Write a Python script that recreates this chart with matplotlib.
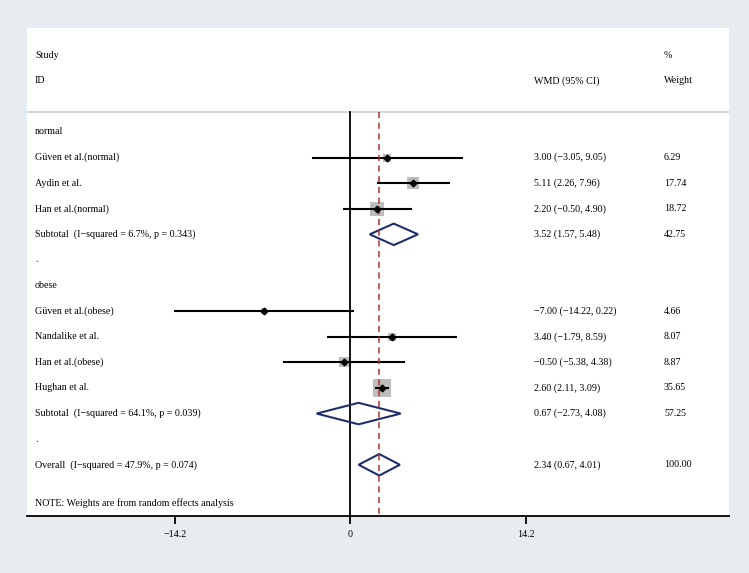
import numpy as np
import matplotlib.pyplot as plt
from matplotlib.patches import Polygon

plt.rcParams['font.family'] = ['Liberation Serif', 'DejaVu Serif']

# study rows
studies = ['Güven et al.(normal)', 'Aydin et al.', 'Han et al.(normal)',
           'Güven et al.(obese)', 'Nandalike et al.', 'Han et al.(obese)', 'Hughan et al.']
study_rows = [1, 2, 3, 7, 8, 9, 10]
est = [3.00, 5.11, 2.20, -7.00, 3.40, -0.50, 2.60]
lo = [-3.05, 2.26, -0.50, -14.22, -1.79, -5.38, 2.11]
hi = [9.05, 7.96, 4.90, 0.22, 8.59, 4.38, 3.09]
weights = [6.29, 17.74, 18.72, 4.66, 8.07, 8.87, 35.65]

# pooled rows (two subtotals + overall)
pooled_labels = ['Subtotal  (I\u2212squared = 6.7%, p = 0.343)',
                 'Subtotal  (I\u2212squared = 64.1%, p = 0.039)',
                 'Overall  (I\u2212squared = 47.9%, p = 0.074)']
pooled_rows = [4, 11, 13]
pooled_est = [3.52, 0.67, 2.34]
pooled_lo = [1.57, -2.73, 0.67]
pooled_hi = [5.48, 4.08, 4.01]
pooled_w = [42.75, 57.25, 100.00]

group_labels = ['normal', '.', 'obese', '.']
group_rows = [0, 5, 6, 12]

overall = 2.34
xticks = [-14.2, 0, 14.2]
xticklabels = ['\u221214.2', '0', '14.2']


def fmt(v):
    return f'{v:.2f}'.replace('-', '\u2212')


fig = plt.figure(figsize=(7.49, 5.73), dpi=100)
fig.patch.set_facecolor('#e6ecf0')
ax = fig.add_axes([0.036, 0.0995, 0.9373, 0.8517])
ax.set_facecolor('white')
ax.set_xlim(-26.18, 30.66)
ax.set_ylim(15, -4.06)

for s in ['top', 'right', 'left']:
    ax.spines[s].set_visible(False)
ax.spines['bottom'].set_linewidth(1.3)
ax.set_yticks([])
ax.set_xticks(xticks)
ax.set_xticklabels(xticklabels)
ax.tick_params(axis='x', length=6, width=1.3, labelsize=7.2, pad=4)

fs = 7.2
tr = ax.get_yaxis_transform()
xl, xw, xp = 0.0114, 0.7222, 0.9074

# header
ax.text(xl, -3, 'Study', transform=tr, fontsize=fs, va='center')
ax.text(xl, -2, 'ID', transform=tr, fontsize=fs, va='center')
ax.text(xw, -2, 'WMD (95% CI)', transform=tr, fontsize=fs, va='center')
ax.text(xp, -3, '%', transform=tr, fontsize=fs, va='center')
ax.text(xp, -2, 'Weight', transform=tr, fontsize=fs, va='center')
ax.axhline(-0.78, color='#cfcfcf', lw=1.2)

# reference lines
ax.plot([0, 0], [-0.78, 15], color='black', lw=1.3, zorder=2)
ax.plot([overall, overall], [-0.78, 15], color='#b5312c', lw=1.1,
        ls=(0, (4, 3)), zorder=5)

for r, lab in zip(group_rows, group_labels):
    ax.text(xl, r, lab, transform=tr, fontsize=fs, va='center')

for i in range(len(studies)):
    r = study_rows[i]
    ax.text(xl, r, studies[i], transform=tr, fontsize=fs, va='center')
    ax.scatter(est[i], r, marker='s', s=4.8 * weights[i], color='#bdbdbd',
               linewidths=0, zorder=3)
    ax.plot([lo[i], hi[i]], [r, r], color='black', lw=1.5, zorder=4)
    ax.plot(est[i], r, marker='D', ms=3.4, color='black', zorder=6)
    ax.text(xw, r, f'{fmt(est[i])} ({fmt(lo[i])}, {fmt(hi[i])})',
            transform=tr, fontsize=fs, va='center')
    ax.text(xp, r, f'{weights[i]:.2f}', transform=tr, fontsize=fs, va='center')

for i in range(len(pooled_rows)):
    r = pooled_rows[i]
    ax.text(xl, r, pooled_labels[i], transform=tr, fontsize=fs, va='center')
    d = Polygon([(pooled_lo[i], r), (pooled_est[i], r - 0.42),
                 (pooled_hi[i], r), (pooled_est[i], r + 0.42)],
                closed=True, fill=False, edgecolor='#1f2f6e', lw=1.5, zorder=4)
    ax.add_patch(d)
    ax.text(xw, r, f'{fmt(pooled_est[i])} ({fmt(pooled_lo[i])}, {fmt(pooled_hi[i])})',
            transform=tr, fontsize=fs, va='center')
    ax.text(xp, r, f'{pooled_w[i]:.2f}', transform=tr, fontsize=fs, va='center')

ax.text(xl, 14.5, 'NOTE: Weights are from random effects analysis',
        transform=tr, fontsize=fs, va='center')

plt.savefig('out.png', dpi=100, facecolor=fig.get_facecolor())
